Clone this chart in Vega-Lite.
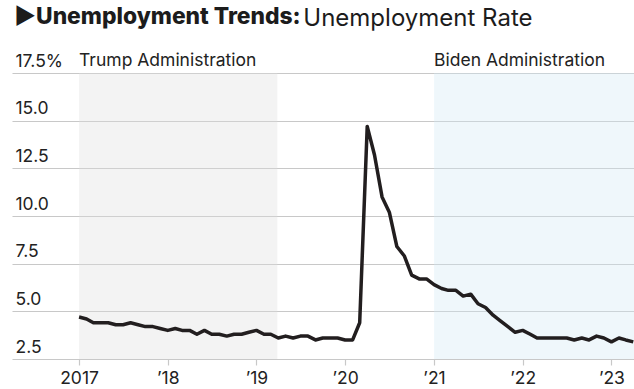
{
  "$schema": "https://vega.github.io/schema/vega-lite/v6.json",
  "width": 622,
  "height": 286,
  "autosize": {"type": "none"},
  "padding": {"left": 12, "top": 73, "right": 0, "bottom": 30},
  "background": "white",
  "title": {
    "text": "►Unemployment Trends:",
    "anchor": "start",
    "frame": "group",
    "baseline": "alphabetic",
    "font": "Inter",
    "fontSize": 22.8,
    "fontWeight": 800,
    "color": "#1c1c1c",
    "dx": 2,
    "offset": -40
  },
  "config": {
    "view": {"stroke": null},
    "font": "Inter"
  },
  "datasets": {
    "rate": [
      {"date": "2017-01-01", "rate": 4.7}, {"date": "2017-02-01", "rate": 4.6}, {"date": "2017-03-01", "rate": 4.4}, {"date": "2017-04-01", "rate": 4.4},
      {"date": "2017-05-01", "rate": 4.4}, {"date": "2017-06-01", "rate": 4.3}, {"date": "2017-07-01", "rate": 4.3}, {"date": "2017-08-01", "rate": 4.4},
      {"date": "2017-09-01", "rate": 4.3}, {"date": "2017-10-01", "rate": 4.2}, {"date": "2017-11-01", "rate": 4.2}, {"date": "2017-12-01", "rate": 4.1},
      {"date": "2018-01-01", "rate": 4.0}, {"date": "2018-02-01", "rate": 4.1}, {"date": "2018-03-01", "rate": 4.0}, {"date": "2018-04-01", "rate": 4.0},
      {"date": "2018-05-01", "rate": 3.8}, {"date": "2018-06-01", "rate": 4.0}, {"date": "2018-07-01", "rate": 3.8}, {"date": "2018-08-01", "rate": 3.8},
      {"date": "2018-09-01", "rate": 3.7}, {"date": "2018-10-01", "rate": 3.8}, {"date": "2018-11-01", "rate": 3.8}, {"date": "2018-12-01", "rate": 3.9},
      {"date": "2019-01-01", "rate": 4.0}, {"date": "2019-02-01", "rate": 3.8}, {"date": "2019-03-01", "rate": 3.8}, {"date": "2019-04-01", "rate": 3.6},
      {"date": "2019-05-01", "rate": 3.7}, {"date": "2019-06-01", "rate": 3.6}, {"date": "2019-07-01", "rate": 3.7}, {"date": "2019-08-01", "rate": 3.7},
      {"date": "2019-09-01", "rate": 3.5}, {"date": "2019-10-01", "rate": 3.6}, {"date": "2019-11-01", "rate": 3.6}, {"date": "2019-12-01", "rate": 3.6},
      {"date": "2020-01-01", "rate": 3.5}, {"date": "2020-02-01", "rate": 3.5}, {"date": "2020-03-01", "rate": 4.4}, {"date": "2020-04-01", "rate": 14.7},
      {"date": "2020-05-01", "rate": 13.2}, {"date": "2020-06-01", "rate": 11.0}, {"date": "2020-07-01", "rate": 10.2}, {"date": "2020-08-01", "rate": 8.4},
      {"date": "2020-09-01", "rate": 7.9}, {"date": "2020-10-01", "rate": 6.9}, {"date": "2020-11-01", "rate": 6.7}, {"date": "2020-12-01", "rate": 6.7},
      {"date": "2021-01-01", "rate": 6.4}, {"date": "2021-02-01", "rate": 6.2}, {"date": "2021-03-01", "rate": 6.1}, {"date": "2021-04-01", "rate": 6.1},
      {"date": "2021-05-01", "rate": 5.8}, {"date": "2021-06-01", "rate": 5.9}, {"date": "2021-07-01", "rate": 5.4}, {"date": "2021-08-01", "rate": 5.2},
      {"date": "2021-09-01", "rate": 4.8}, {"date": "2021-10-01", "rate": 4.5}, {"date": "2021-11-01", "rate": 4.2}, {"date": "2021-12-01", "rate": 3.9},
      {"date": "2022-01-01", "rate": 4.0}, {"date": "2022-02-01", "rate": 3.8}, {"date": "2022-03-01", "rate": 3.6}, {"date": "2022-04-01", "rate": 3.6},
      {"date": "2022-05-01", "rate": 3.6}, {"date": "2022-06-01", "rate": 3.6}, {"date": "2022-07-01", "rate": 3.6}, {"date": "2022-08-01", "rate": 3.5},
      {"date": "2022-09-01", "rate": 3.6}, {"date": "2022-10-01", "rate": 3.5}, {"date": "2022-11-01", "rate": 3.7}, {"date": "2022-12-01", "rate": 3.6},
      {"date": "2023-01-01", "rate": 3.4}, {"date": "2023-02-01", "rate": 3.6}, {"date": "2023-03-01", "rate": 3.5}, {"date": "2023-04-01", "rate": 3.4}
    ],
    "admin": [
      {"admin": "Trump", "label": "Trump Administration", "start": "2017-01-01", "end": "2019-03-28"},
      {"admin": "Biden", "label": "Biden Administration", "start": "2021-01-01", "end": "2023-04-05"}
    ],
    "header": [
      {"text": "Unemployment Rate", "date": "2019-07-13", "level": 19.95}
    ]
  },
  "layer": [
    {
      "data": {"name": "admin"},
      "mark": {"type": "rect", "opacity": 0.35, "clip": true},
      "encoding": {
        "x": {
          "field": "start", "type": "temporal",
          "scale": {"type": "utc", "domain": [{"year": 2016, "month": 3, "date": 31, "utc": true}, {"year": 2023, "month": 4, "date": 4, "utc": true}]},
          "axis": {
            "title": null,
            "values": [{"year": 2017, "utc": true}, {"year": 2018, "utc": true}, {"year": 2019, "utc": true}, {"year": 2020, "utc": true}, {"year": 2021, "utc": true}, {"year": 2022, "utc": true}, {"year": 2023, "utc": true}],
            "labelExpr": "utcyear(datum.value) == 2017 ? '2017' : '’' + substring(toString(utcyear(datum.value)), 2)",
            "grid": false,
            "domain": false,
            "ticks": true,
            "tickSize": 6,
            "tickColor": "#c8c8c8",
            "tickWidth": 1.2,
            "labelPadding": 4,
            "labelFontSize": 17.5,
            "labelColor": "#222222",
            "labelFont": "Inter",
            "labelFlush": false,
            "labelOverlap": false
          }
        },
        "x2": {"field": "end"},
        "y": {"datum": 2.5, "type": "quantitative"},
        "y2": {"datum": 17.5},
        "color": {
          "field": "admin", "type": "nominal",
          "scale": {"domain": ["Trump", "Biden"], "range": ["#dedede", "#d1e8f4"]},
          "legend": null
        }
      }
    },
    {
      "data": {"name": "rate"},
      "mark": {"type": "line", "color": "#221e1f", "strokeWidth": 3.5, "strokeJoin": "round", "strokeCap": "butt"},
      "encoding": {
        "x": {"field": "date", "type": "temporal"},
        "y": {
          "field": "rate", "type": "quantitative",
          "scale": {"domain": [2.5, 17.5], "nice": false, "zero": false},
          "axis": {
            "title": null,
            "values": [2.5, 5, 7.5, 10, 12.5, 15, 17.5],
            "grid": true,
            "gridColor": "#c8c8c8",
            "gridWidth": 1.2,
            "domain": false,
            "ticks": false,
            "tickSize": 0,
            "labelAlign": "left",
            "labelBaseline": "alphabetic",
            "labelPadding": -3,
            "labelOffset": -7,
            "labelFontSize": 17.5,
            "labelColor": "#222222",
            "labelFont": "Inter",
            "labelFlush": false,
            "labelOverlap": false,
            "labelExpr": "datum.value == 17.5 ? '17.5%' : (datum.value < 10 ? '\u2007' + format(datum.value, '.1f') : format(datum.value, '.1f'))"
          }
        }
      }
    },
    {
      "data": {"name": "admin"},
      "mark": {"type": "text", "align": "left", "baseline": "alphabetic", "dx": 0, "dy": -7, "fontSize": 17.5, "font": "Inter", "color": "#222222"},
      "encoding": {
        "x": {"field": "start", "type": "temporal"},
        "y": {"datum": 17.5, "type": "quantitative"},
        "text": {"field": "label"}
      }
    },
    {
      "data": {"name": "header"},
      "mark": {"type": "text", "align": "left", "baseline": "alphabetic", "fontSize": 24, "font": "Inter", "fontWeight": 400, "color": "#1c1c1c"},
      "encoding": {
        "x": {"field": "date", "type": "temporal"},
        "y": {"field": "level", "type": "quantitative"},
        "text": {"field": "text"}
      }
    }
  ]
}
